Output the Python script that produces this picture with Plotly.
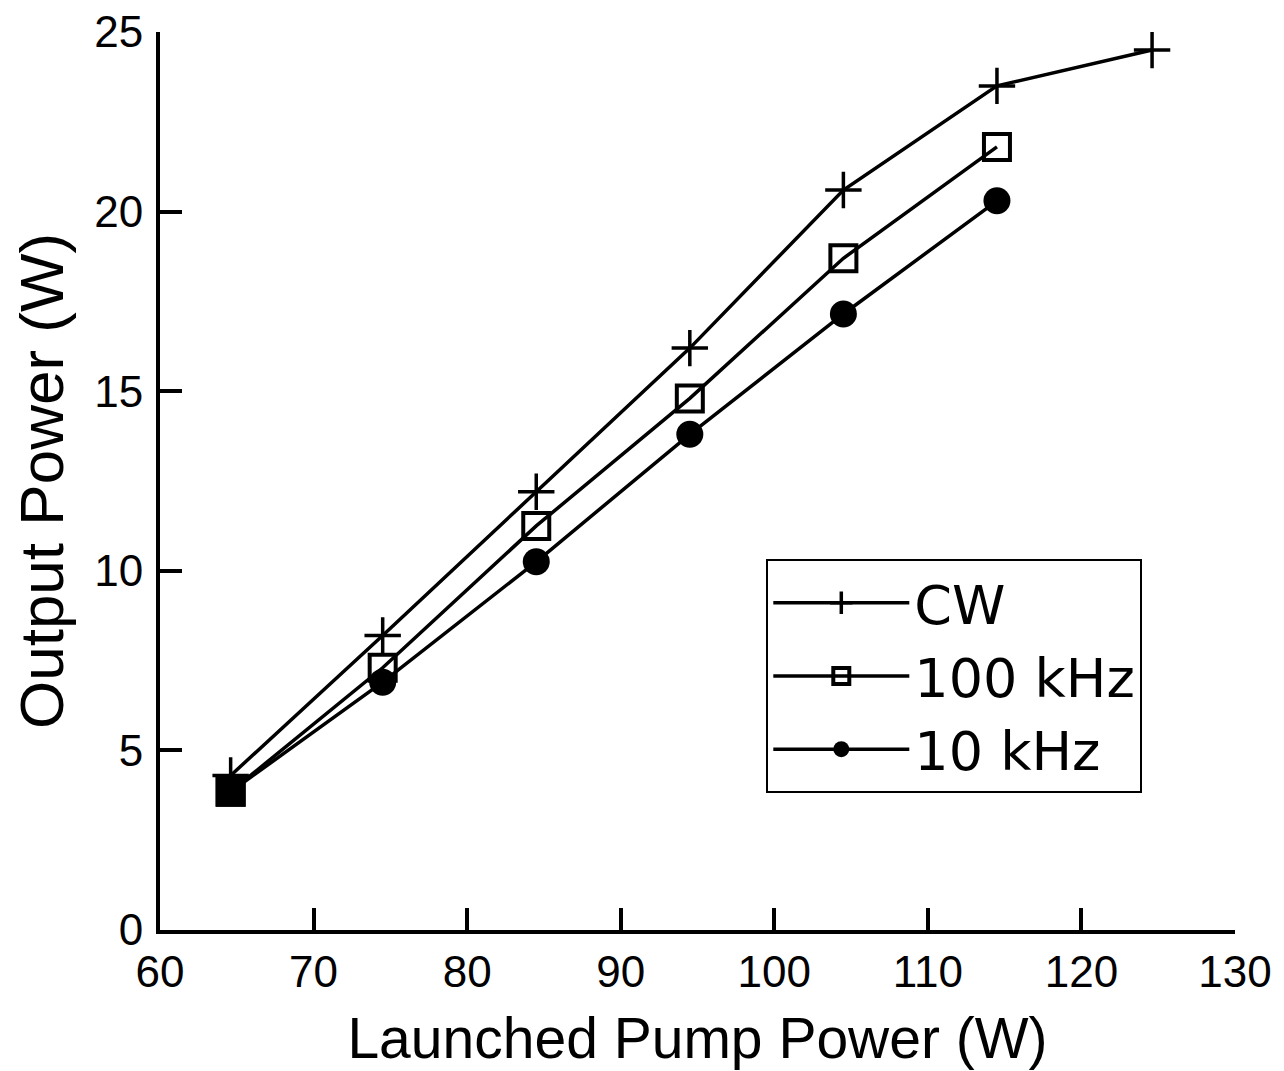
import plotly.graph_objects as go

pump_cw = [64.6, 74.5, 84.5, 94.5, 104.5, 114.5, 124.6]
out_cw = [4.3, 8.2, 12.2, 16.2, 20.6, 23.5, 24.5]

pump_100k = [64.6, 74.5, 84.5, 94.5, 104.5, 114.5]
out_100k = [3.85, 7.3, 11.25, 14.8, 18.7, 21.8]

pump_10k = [64.6, 74.5, 84.5, 94.5, 104.5, 114.5]
out_10k = [3.85, 6.9, 10.25, 13.8, 17.15, 20.3]

x_ticks = [60, 70, 80, 90, 100, 110, 120, 130]
y_ticks = [0, 5, 10, 15, 20, 25]

FONT = "Liberation Sans, Arial, sans-serif"
LEG_FONT = "DejaVu Sans, sans-serif"
LW = 3.5

fig = go.Figure()
fig.add_trace(go.Scatter(
    x=pump_cw, y=out_cw, name="CW", mode="lines+markers",
    line=dict(color="black", width=LW),
    marker=dict(symbol="cross-thin", size=26, color="black",
                line=dict(color="black", width=3.5)),
))
fig.add_trace(go.Scatter(
    x=pump_100k, y=out_100k, name="100 kHz", mode="lines+markers",
    line=dict(color="black", width=LW),
    marker=dict(symbol="square-open", size=26, color="black",
                line=dict(color="black", width=4)),
))
# drawn from the last point back so the legend shows the circle symbol;
# at the shared first point the marker is a filled square as in the source
n10 = len(pump_10k)
fig.add_trace(go.Scatter(
    x=pump_10k[::-1], y=out_10k[::-1], name="10 kHz", mode="lines+markers",
    line=dict(color="black", width=LW),
    marker=dict(symbol=["circle"] * (n10 - 1) + ["square"],
                size=[27] * (n10 - 1) + [30], color="black", opacity=1,
                line=dict(color="black", width=0)),
))

axis_common = dict(
    showgrid=False, zeroline=False, showline=True, linecolor="black",
    linewidth=4, ticks="inside", ticklen=22, tickwidth=3.5, tickcolor="black",
    tickfont=dict(family=FONT, size=44, color="black"),
    mirror=False, automargin=False,
)

fig.update_layout(
    width=1284, height=1071,
    margin=dict(l=160, r=49, t=32, b=141),
    paper_bgcolor="white", plot_bgcolor="white",
    font=dict(family=FONT, color="black"),
    xaxis=dict(range=[60, 130], tickvals=x_ticks,
               title=dict(text="Launched Pump Power (W)",
                          font=dict(family=FONT, size=57), standoff=24),
               **axis_common),
    yaxis=dict(range=[0, 25], tickvals=y_ticks, ticklabelstandoff=4,
               title=dict(text="Output Power (W)",
                          font=dict(family=FONT, size=62), standoff=12),
               **axis_common),
    legend=dict(
        x=0.564, y=0.413, xanchor="left", yanchor="top",
        bgcolor="white", bordercolor="black", borderwidth=2,
        font=dict(family=LEG_FONT, size=54, color="black"),
        itemwidth=136, tracegroupgap=0,
    ),
    showlegend=True,
)

fig.write_html("out.html")
